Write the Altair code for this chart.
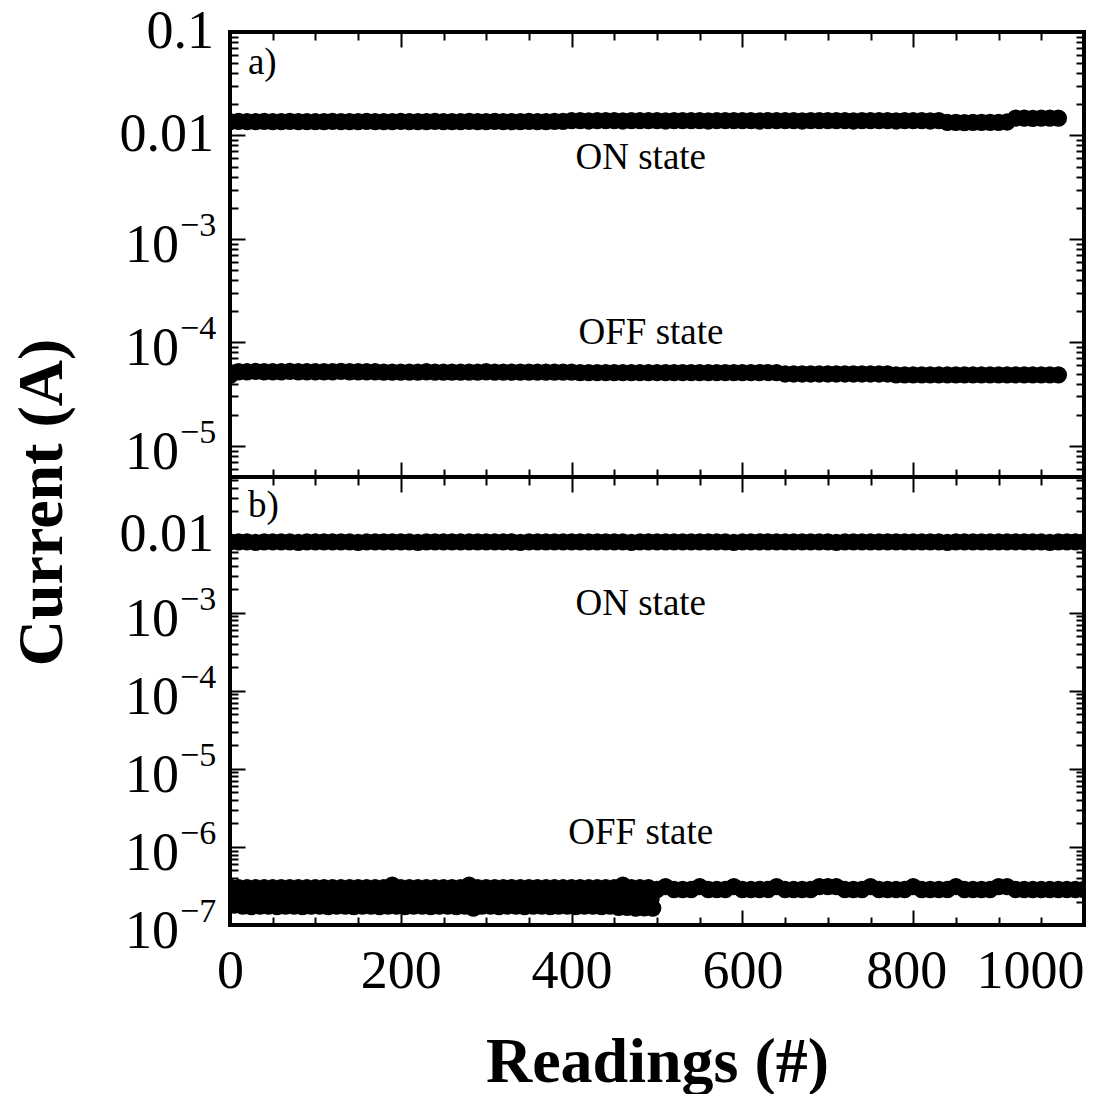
import altair as alt
import pandas as pd

FONT = "Liberation Serif"

# ---------------- data ----------------
# panel a) readings every 10
readings_a = list(range(0, 980, 10))
on_a = [
    0.0136, 0.0137, 0.0136, 0.0136, 0.0137, 0.0136, 0.0136, 0.0137, 0.0136, 0.0136,
    0.0136, 0.0136, 0.0137, 0.0136, 0.0136, 0.0136, 0.0137, 0.0136, 0.0136, 0.0136,
    0.0137, 0.0136, 0.0136, 0.0136, 0.0137, 0.0136, 0.0136, 0.0136, 0.0137, 0.0136,
    0.0136, 0.0137, 0.0136, 0.0136, 0.0136, 0.0137, 0.0136, 0.0136, 0.0137, 0.0137,
    0.0139, 0.0139, 0.0138, 0.0139, 0.0139, 0.0139, 0.0138, 0.0139, 0.0139, 0.0139,
    0.0139, 0.0138, 0.0139, 0.0139, 0.0139, 0.0139, 0.0138, 0.0139, 0.0139, 0.0139,
    0.0139, 0.0139, 0.0138, 0.0139, 0.0139, 0.0139, 0.0139, 0.0138, 0.0139, 0.0139,
    0.0139, 0.0139, 0.0139, 0.0138, 0.0139, 0.0139, 0.0139, 0.0139, 0.0138, 0.0139,
    0.0139, 0.0139, 0.0138, 0.0139, 0.0134, 0.0134, 0.0133, 0.0134, 0.0134, 0.0134,
    0.0134, 0.0135, 0.0147, 0.0147, 0.0146, 0.0147, 0.0147, 0.0147,
]
off_a = [
    4.8e-5, 5.2e-5, 5.2e-5, 5.25e-5, 5.2e-5, 5.2e-5, 5.2e-5, 5.25e-5, 5.2e-5, 5.2e-5,
    5.2e-5, 5.2e-5, 5.2e-5, 5.25e-5, 5.2e-5, 5.2e-5, 5.2e-5, 5.2e-5, 5.15e-5, 5.15e-5,
    5.15e-5, 5.15e-5, 5.15e-5, 5.2e-5, 5.15e-5, 5.15e-5, 5.15e-5, 5.15e-5, 5.15e-5, 5.15e-5,
    5.2e-5, 5.15e-5, 5.15e-5, 5.15e-5, 5.15e-5, 5.15e-5, 5.15e-5, 5.15e-5, 5.15e-5, 5.15e-5,
    5.15e-5, 5.1e-5, 5.1e-5, 5.1e-5, 5.1e-5, 5.1e-5, 5.1e-5, 5.1e-5, 5.1e-5, 5.1e-5,
    5.1e-5, 5.1e-5, 5.1e-5, 5.1e-5, 5.1e-5, 5.1e-5, 5.1e-5, 5.1e-5, 5.1e-5, 5.1e-5,
    5.1e-5, 5.1e-5, 5.1e-5, 5.1e-5, 5.1e-5, 4.95e-5, 4.95e-5, 4.95e-5, 4.95e-5, 4.95e-5,
    4.95e-5, 4.95e-5, 4.95e-5, 4.95e-5, 4.95e-5, 4.95e-5, 4.95e-5, 4.95e-5, 4.85e-5, 4.85e-5,
    4.85e-5, 4.85e-5, 4.85e-5, 4.85e-5, 4.85e-5, 4.85e-5, 4.85e-5, 4.85e-5, 4.85e-5, 4.85e-5,
    4.85e-5, 4.85e-5, 4.85e-5, 4.85e-5, 4.85e-5, 4.85e-5, 4.85e-5, 4.85e-5,
]

# panel b)
readings_b_on = list(range(0, 1010, 10))
on_b = [
    8.1e-3, 8.1e-3, 8.1e-3, 8.0e-3, 8.1e-3, 8.1e-3, 8.1e-3, 8.1e-3, 8.0e-3, 8.1e-3,
    8.1e-3, 8.1e-3, 8.1e-3, 8.1e-3, 8.1e-3, 8.0e-3, 8.1e-3, 8.1e-3, 8.1e-3, 8.1e-3,
    8.1e-3, 8.1e-3, 8.0e-3, 8.1e-3, 8.1e-3, 8.1e-3, 8.1e-3, 8.1e-3, 8.1e-3, 8.1e-3,
    8.1e-3, 8.1e-3, 8.1e-3, 8.1e-3, 8.0e-3, 8.1e-3, 8.1e-3, 8.1e-3, 8.1e-3, 8.1e-3,
    8.1e-3, 8.1e-3, 8.1e-3, 8.1e-3, 8.1e-3, 8.1e-3, 8.1e-3, 8.0e-3, 8.1e-3, 8.1e-3,
    8.1e-3, 8.1e-3, 8.1e-3, 8.1e-3, 8.1e-3, 8.1e-3, 8.1e-3, 8.1e-3, 8.1e-3, 8.0e-3,
    8.1e-3, 8.1e-3, 8.1e-3, 8.1e-3, 8.1e-3, 8.1e-3, 8.1e-3, 8.1e-3, 8.1e-3, 8.1e-3,
    8.1e-3, 8.0e-3, 8.1e-3, 8.1e-3, 8.1e-3, 8.1e-3, 8.1e-3, 8.1e-3, 8.1e-3, 8.1e-3,
    8.1e-3, 8.1e-3, 8.1e-3, 8.1e-3, 8.0e-3, 8.1e-3, 8.1e-3, 8.1e-3, 8.1e-3, 8.1e-3,
    8.1e-3, 8.1e-3, 8.1e-3, 8.1e-3, 8.1e-3, 8.1e-3, 8.0e-3, 8.1e-3, 8.1e-3, 8.1e-3,
    8.1e-3,
]
readings_b_hi = list(range(0, 500, 10))
off_b_hi = [
    3.05e-7, 3.0e-7, 3.0e-7, 3.0e-7, 3.0e-7, 3.0e-7, 3.0e-7, 3.0e-7, 3.0e-7, 3.0e-7,
    3.0e-7, 3.0e-7, 3.0e-7, 3.0e-7, 3.0e-7, 3.0e-7, 3.0e-7, 3.0e-7, 3.0e-7, 3.25e-7,
    3.0e-7, 3.0e-7, 3.0e-7, 3.0e-7, 3.0e-7, 3.0e-7, 3.0e-7, 3.0e-7, 3.25e-7, 3.0e-7,
    3.0e-7, 3.0e-7, 3.0e-7, 3.0e-7, 3.0e-7, 3.0e-7, 3.0e-7, 3.0e-7, 3.0e-7, 3.0e-7,
    3.0e-7, 3.0e-7, 3.0e-7, 3.0e-7, 3.0e-7, 3.0e-7, 3.25e-7, 3.0e-7, 3.0e-7, 3.0e-7,
]
readings_b_mid = list(range(3, 500, 10))
off_b_mid = [
    2.3e-7, 2.35e-7, 2.25e-7, 2.4e-7, 2.3e-7, 2.2e-7, 2.35e-7, 2.3e-7, 2.4e-7, 2.25e-7,
    2.3e-7, 2.35e-7, 2.2e-7, 2.3e-7, 2.4e-7, 2.3e-7, 2.25e-7, 2.35e-7, 2.3e-7, 2.4e-7,
    2.25e-7, 2.3e-7, 2.35e-7, 2.2e-7, 2.3e-7, 2.4e-7, 2.3e-7, 2.25e-7, 2.35e-7, 2.3e-7,
    2.4e-7, 2.25e-7, 2.3e-7, 2.35e-7, 2.2e-7, 2.3e-7, 2.4e-7, 2.3e-7, 2.25e-7, 2.35e-7,
    2.3e-7, 2.4e-7, 2.25e-7, 2.3e-7, 2.35e-7, 2.2e-7, 2.3e-7, 2.25e-7, 2.2e-7, 2.15e-7,
]
readings_b_lo = list(range(5, 500, 10))
off_b_lo = [
    1.8e-7, 1.75e-7, 1.72e-7, 1.75e-7, 1.75e-7, 1.72e-7, 1.75e-7, 1.75e-7, 1.72e-7, 1.75e-7,
    1.75e-7, 1.72e-7, 1.75e-7, 1.75e-7, 1.72e-7, 1.75e-7, 1.75e-7, 1.72e-7, 1.75e-7, 1.75e-7,
    1.72e-7, 1.75e-7, 1.75e-7, 1.72e-7, 1.75e-7, 1.75e-7, 1.72e-7, 1.75e-7, 1.65e-7, 1.75e-7,
    1.75e-7, 1.72e-7, 1.75e-7, 1.75e-7, 1.72e-7, 1.75e-7, 1.75e-7, 1.72e-7, 1.75e-7, 1.75e-7,
    1.72e-7, 1.75e-7, 1.75e-7, 1.72e-7, 1.75e-7, 1.68e-7, 1.68e-7, 1.65e-7, 1.66e-7, 1.65e-7,
]
readings_b_late = list(range(500, 1010, 10))
off_b_late = [
    2.85e-7, 3.1e-7, 2.85e-7, 2.85e-7, 2.85e-7, 3.1e-7, 2.85e-7, 2.85e-7, 2.85e-7, 3.1e-7,
    2.85e-7, 2.85e-7, 2.85e-7, 2.85e-7, 3.1e-7, 2.85e-7, 2.85e-7, 2.85e-7, 2.85e-7, 3.1e-7,
    3.1e-7, 3.1e-7, 2.85e-7, 2.85e-7, 2.85e-7, 3.1e-7, 2.85e-7, 2.85e-7, 2.85e-7, 2.85e-7,
    3.1e-7, 2.85e-7, 2.85e-7, 2.85e-7, 2.85e-7, 3.1e-7, 2.85e-7, 2.85e-7, 2.85e-7, 2.85e-7,
    3.1e-7, 3.1e-7, 2.85e-7, 2.85e-7, 2.85e-7, 2.85e-7, 2.85e-7, 2.85e-7, 2.85e-7, 2.85e-7,
    2.85e-7,
]

# axis ticks and labels
x_major = [0, 200, 400, 600, 800, 1000]
x_minor = [50, 100, 150, 250, 300, 350, 450, 500, 550, 650, 700, 750, 850, 900, 950]
a_domain = [5e-6, 0.1]
a_major = [0.1, 0.01, 1e-3, 1e-4, 1e-5]
a_plain_vals = [0.1, 0.01]
a_plain_text = ["0.1", "0.01"]
a_pow_vals = [1e-3, 1e-4, 1e-5]
a_pow_exp = ["\u22123", "\u22124", "\u22125"]
b_domain = [1e-7, 0.055]
b_major = [0.01, 1e-3, 1e-4, 1e-5, 1e-6, 1e-7]
b_plain_vals = [0.01]
b_plain_text = ["0.01"]
b_pow_vals = [1e-3, 1e-4, 1e-5, 1e-6, 1e-7]
b_pow_exp = ["\u22123", "\u22124", "\u22125", "\u22126", "\u22127"]

# annotations: (text, reading, current)
a_tag = ("a)", 21, 0.0393)
b_tag = ("b)", 21, 0.0169)
a_notes_text = ["ON state", "OFF state"]
a_notes_x = [481, 493]
a_notes_y = [4.74e-3, 9.64e-5]
b_notes_text = ["ON state", "OFF state"]
b_notes_x = [481, 481]
b_notes_y = [9.38e-4, 1.09e-6]


def minors(lo, hi):
    out = []
    for e in range(-9, 1):
        for k in range(2, 10):
            v = k * 10.0 ** e
            if lo <= v * 1.0000001 and v <= hi * 1.0000001:
                out.append(v)
    return out


X_SCALE = alt.Scale(domain=[0, 1000], nice=False, zero=False)
MAJ, MIN = 15, 8
LBL = 54
VIEW = alt.ViewBackground(stroke="black", strokeWidth=4)


def tick_axis(orient, values, size, **kw):
    return alt.Axis(orient=orient, values=values, tickSize=size, offset=-size,
                    domain=False, grid=False, ticks=True, tickWidth=2,
                    tickColor="black", zindex=2, **kw)


def panel(df, domain, major, plain_v, plain_t, pow_v, pow_e, tag, nx, ny, nt,
          height, bottom_labels, ytitle):
    ys = alt.Scale(type="log", domain=domain, nice=False)
    yminor = minors(domain[0], domain[1])

    if bottom_labels:
        xb_major = tick_axis("bottom", x_major, MAJ, labels=True, labelFont=FONT,
                             labelFontSize=LBL, labelColor="black", labelPadding=19,
                             format="d",
                             labelFlush=False, labelOverlap=False, labelBound=False,
                             labelAlign={"condition": {"test": "datum.value == 1000", "value": "right"},
                                         "value": "center"},
                             labelOffset={"condition": {"test": "datum.value == 800", "value": -7},
                                          "value": 0},
                             titleFont=FONT, titleFontSize=64, titleFontWeight="bold",
                             titleColor="black", titleBaseline="alphabetic", titleY=171)
        xtitle = "Readings (#)"
    else:
        xb_major = tick_axis("bottom", x_major, MAJ, labels=False)
        xtitle = None

    if ytitle:
        yl_major = tick_axis("left", major, MAJ, labels=False, titleFont=FONT,
                             titleFontSize=64, titleFontWeight="bold", titleColor="black",
                             titleAngle=270, titleBaseline="alphabetic", titleAlign="center",
                             titleX=-184, titleY=470)
        yt = "Current (A)"
    else:
        yl_major = tick_axis("left", major, MAJ, labels=False)
        yt = None

    def pts(xa, ya, xt, ytt, opacity):
        return alt.Chart(df).mark_circle(size=300, color="black", opacity=opacity,
                                          clip=True).encode(
            x=alt.X("reading:Q", scale=X_SCALE, axis=xa, title=xt),
            y=alt.Y("current:Q", scale=ys, axis=ya, title=ytt),
        )

    l1 = pts(xb_major, yl_major, xtitle, yt, 1)
    l2 = pts(tick_axis("bottom", x_minor, MIN, labels=False),
             tick_axis("left", yminor, MIN, labels=False), None, None, 0)
    l3 = pts(tick_axis("top", x_major, MAJ, labels=False),
             tick_axis("right", major, MAJ, labels=False), None, None, 0)
    l4 = pts(tick_axis("top", x_minor, MIN, labels=False),
             tick_axis("right", yminor, MIN, labels=False), None, None, 0)

    plain_df = pd.DataFrame({"v": plain_v, "t": plain_t})
    pow_df = pd.DataFrame({"v": pow_v, "e": pow_e, "b": ["10"] * len(pow_v)})
    l5 = alt.Chart(plain_df).mark_text(align="right", baseline="middle", font=FONT,
                                       fontSize=LBL, color="black").encode(
        x=alt.value(-16), y=alt.Y("v:Q", scale=ys, axis=None), text="t:N")
    l6 = alt.Chart(pow_df).mark_text(align="right", baseline="middle", font=FONT,
                                     fontSize=LBL, color="black", dy=7).encode(
        x=alt.value(-51), y=alt.Y("v:Q", scale=ys, axis=None), text="b:N")
    l7 = alt.Chart(pow_df).mark_text(align="left", baseline="middle", font=FONT,
                                     fontSize=34, color="black", dy=-13).encode(
        x=alt.value(-50), y=alt.Y("v:Q", scale=ys, axis=None), text="e:N")

    notes_df = pd.DataFrame({"x": nx, "y": ny, "t": nt})
    l8 = alt.Chart(notes_df).mark_text(align="center", baseline="alphabetic", font=FONT,
                                       fontSize=37, color="black").encode(
        x=alt.X("x:Q", scale=X_SCALE, axis=None),
        y=alt.Y("y:Q", scale=ys, axis=None), text="t:N")
    tag_df = pd.DataFrame({"x": [tag[1]], "y": [tag[2]], "t": [tag[0]]})
    l9 = alt.Chart(tag_df).mark_text(align="left", baseline="alphabetic", font=FONT,
                                     fontSize=37, color="black").encode(
        x=alt.X("x:Q", scale=X_SCALE, axis=None),
        y=alt.Y("y:Q", scale=ys, axis=None), text="t:N")

    return alt.layer(l1, l2, l3, l4, l5, l6, l7, l8, l9).resolve_scale(
        x="shared", y="shared").resolve_axis(x="independent", y="independent").properties(
        width=854, height=height, view=VIEW)


df_a = pd.DataFrame({"reading": readings_a + readings_a, "current": on_a + off_a})
df_b = pd.DataFrame({
    "reading": readings_b_on + readings_b_hi + readings_b_mid + readings_b_lo + readings_b_late,
    "current": on_b + off_b_hi + off_b_mid + off_b_lo + off_b_late,
})

pa = panel(df_a, a_domain, a_major, a_plain_vals, a_plain_text, a_pow_vals, a_pow_exp,
           a_tag, a_notes_x, a_notes_y, a_notes_text, 445, False, True)
pb = panel(df_b, b_domain, b_major, b_plain_vals, b_plain_text, b_pow_vals, b_pow_exp,
           b_tag, b_notes_x, b_notes_y, b_notes_text, 448, True, False)

chart = alt.vconcat(pa, pb, spacing=0, bounds="flush").properties(
    padding={"left": 8, "top": 3, "right": 0, "bottom": 0},
    background="white",
).configure_view(stroke="black", strokeWidth=4).configure(font=FONT)

chart.save("out.html", embed_options={"renderer": "svg", "actions": False})
